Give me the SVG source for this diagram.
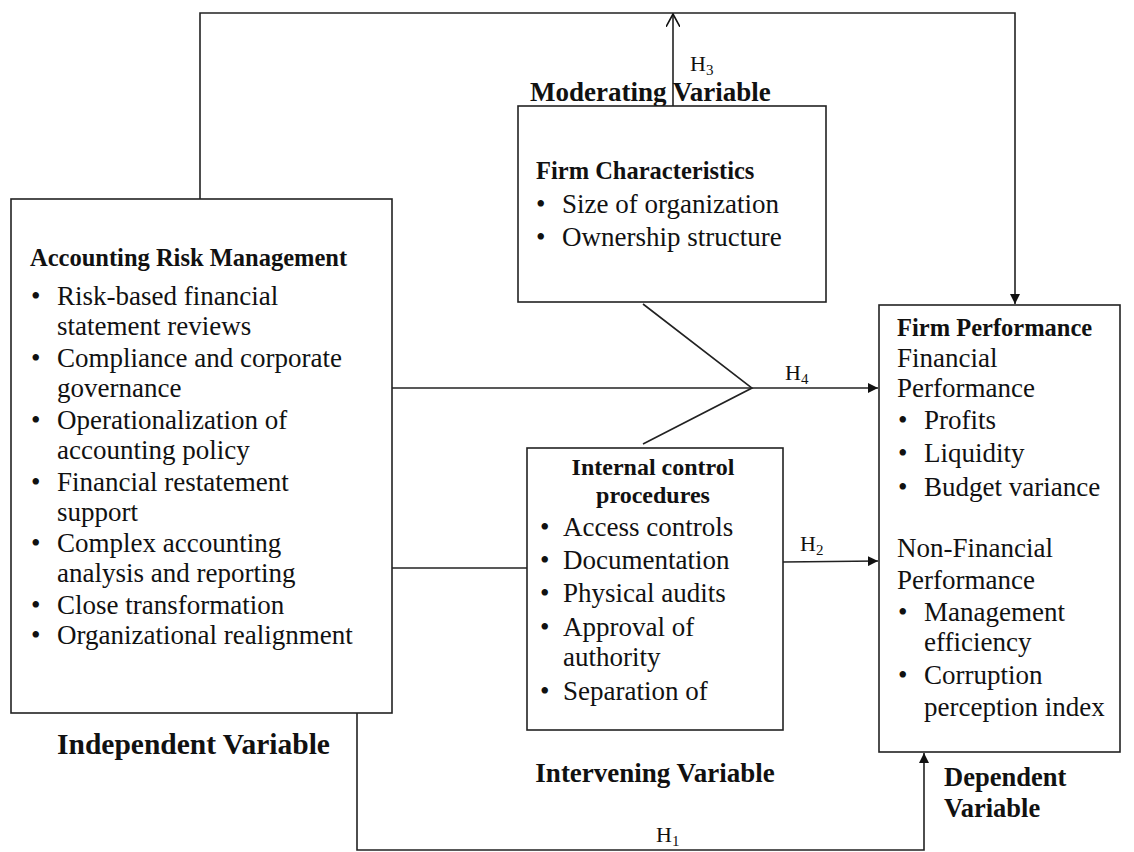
<svg xmlns="http://www.w3.org/2000/svg" width="1134" height="852" viewBox="0 0 1134 852">
<defs>
<style>
text{font-family:"Liberation Serif","Times New Roman",serif;fill:#111}
.t{font-size:27px}
.b{font-weight:bold;font-size:24.5px}
.lbl{font-weight:bold;font-size:27px}
.box{fill:#fff;stroke:#222;stroke-width:1.6}
.ln{fill:none;stroke:#222;stroke-width:1.6}
.h{font-size:22px}
.s{font-size:15px}
</style>
<marker id="fa" viewBox="0 0 10 10" refX="10" refY="5" markerWidth="10" markerHeight="10" markerUnits="userSpaceOnUse" orient="auto">
<path d="M0,0 L10,5 L0,10 Z" fill="#111"/>
</marker>
<marker id="oa" viewBox="0 0 12 12" refX="11" refY="6" markerWidth="14" markerHeight="14" markerUnits="userSpaceOnUse" orient="auto">
<path d="M0,0 L11,6 L0,12" fill="none" stroke="#111" stroke-width="1.4"/>
</marker>
</defs>
<rect width="1134" height="852" fill="#fff"/>
<g id="connectors">
<polyline class="ln" points="200,199 200,13 1015,13 1015,304" marker-end="url(#fa)"/>
<line class="ln" x1="673" y1="106" x2="673" y2="14" marker-end="url(#oa)"/>
<line class="ln" x1="392" y1="388" x2="878" y2="388" marker-end="url(#fa)"/>
<polyline class="ln" points="643,304 752,388 643,444"/>
<line class="ln" x1="392" y1="568" x2="527" y2="568"/>
<line class="ln" x1="783" y1="562" x2="878" y2="561" marker-end="url(#fa)"/>
<polyline class="ln" points="357,713 357,850 924,850 924,753" marker-end="url(#fa)"/>
<text class="h" x="690" y="71">H<tspan class="s" dy="4">3</tspan></text>
<text class="h" x="785" y="380">H<tspan class="s" dy="4">4</tspan></text>
<text class="h" x="800" y="551">H<tspan class="s" dy="4">2</tspan></text>
<text class="h" x="656" y="842">H<tspan class="s" dy="4">1</tspan></text>
</g>
<g id="independent">
<rect class="box" x="11" y="199" width="381" height="514"/>
<text class="b" x="30" y="266">Accounting Risk Management</text>
<g class="t">
<text x="31" y="305">•</text><text x="57" y="305">Risk-based financial</text>
<text x="57" y="335">statement reviews</text>
<text x="31" y="367">•</text><text x="57" y="367">Compliance and corporate</text>
<text x="57" y="397">governance</text>
<text x="31" y="429">•</text><text x="57" y="429">Operationalization of</text>
<text x="57" y="459">accounting policy</text>
<text x="31" y="491">•</text><text x="57" y="491">Financial restatement</text>
<text x="57" y="521">support</text>
<text x="31" y="552">•</text><text x="57" y="552">Complex accounting</text>
<text x="57" y="582">analysis and reporting</text>
<text x="31" y="614">•</text><text x="57" y="614">Close transformation</text>
<text x="31" y="644">•</text><text x="57" y="644">Organizational realignment</text>
</g>
<text class="lbl" x="57" y="754" style="font-size:29.5px">Independent Variable</text>
</g>
<g id="moderating">
<text class="lbl" x="530" y="101">Moderating Variable</text>
<rect class="box" x="518" y="106" width="308" height="196"/>
<text class="b" x="536" y="179">Firm Characteristics</text>
<g class="t">
<text x="536" y="213">•</text><text x="562" y="213">Size of organization</text>
<text x="536" y="246">•</text><text x="562" y="246">Ownership structure</text>
</g>
</g>
<g id="intervening">
<rect class="box" x="527" y="448" width="256" height="282"/>
<text class="b" x="653" y="475" text-anchor="middle" style="font-size:24px">Internal control</text>
<text class="b" x="653" y="503" text-anchor="middle" style="font-size:24px">procedures</text>
<g class="t">
<text x="540" y="536">•</text><text x="563" y="536">Access controls</text>
<text x="540" y="569">•</text><text x="563" y="569">Documentation</text>
<text x="540" y="602">•</text><text x="563" y="602">Physical audits</text>
<text x="540" y="636">•</text><text x="563" y="636">Approval of</text>
<text x="563" y="666">authority</text>
<text x="540" y="700">•</text><text x="563" y="700">Separation of</text>
</g>
<text class="lbl" x="655" y="782" text-anchor="middle">Intervening Variable</text>
</g>
<g id="dependent">
<rect class="box" x="879" y="305" width="241" height="447"/>
<text class="b" x="897" y="336">Firm Performance</text>
<g class="t">
<text x="897" y="367">Financial</text>
<text x="897" y="397">Performance</text>
<text x="898" y="429">•</text><text x="924" y="429">Profits</text>
<text x="898" y="462">•</text><text x="924" y="462">Liquidity</text>
<text x="898" y="496">•</text><text x="924" y="496">Budget variance</text>
<text x="897" y="557">Non-Financial</text>
<text x="897" y="589">Performance</text>
<text x="898" y="621">•</text><text x="924" y="621">Management</text>
<text x="924" y="651">efficiency</text>
<text x="898" y="684">•</text><text x="924" y="684">Corruption</text>
<text x="924" y="716">perception index</text>
</g>
<text class="lbl" x="944" y="786" style="font-size:26.5px">Dependent</text>
<text class="lbl" x="944" y="817" style="font-size:26.5px">Variable</text>
</g>
</svg>
